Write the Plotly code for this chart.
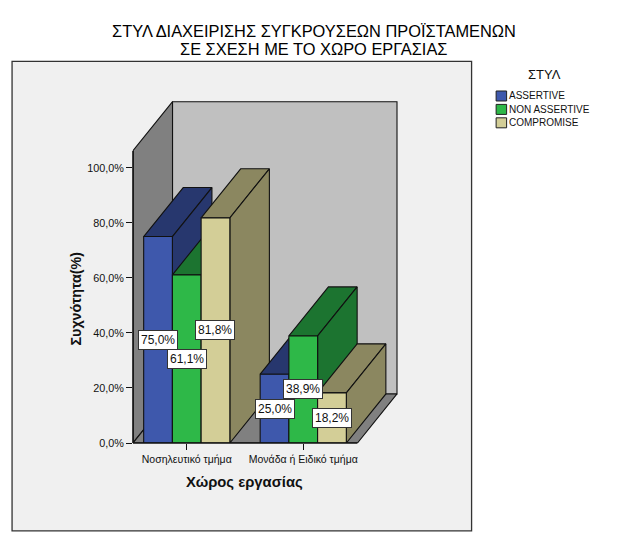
import plotly.graph_objects as go

categories = ["Νοσηλευτικό τμήμα", "Μονάδα ή Ειδικό τμήμα"]
series_names = ["ASSERTIVE", "NON ASSERTIVE", "COMPROMISE"]
assertive = [75.0, 25.0]
non_assertive = [61.1, 38.9]
compromise = [81.8, 18.2]
y_ticks = [0, 20, 40, 60, 80, 100]
y_tick_labels = ["0,0%", "20,0%", "40,0%", "60,0%", "80,0%", "100,0%"]
title_lines = ["ΣΤΥΛ ΔΙΑΧΕΙΡΙΣΗΣ ΣΥΓΚΡΟΥΣΕΩΝ ΠΡΟΪΣΤΑΜΕΝΩΝ", "ΣΕ ΣΧΕΣΗ ΜΕ ΤΟ ΧΩΡΟ ΕΡΓΑΣΙΑΣ"]

values = [assertive, non_assertive, compromise]
front = ["#3E58AC", "#2EB848", "#D3CE97"]
dark = ["#27376E", "#1C7430", "#8B8760"]

W, H = 631, 546
# plot area in pixels, covers the whole extruded box
L, R, T, B = 133.3, 399.0, 100.0, 442.7
PX_PER_CAT = 116.35
PX_PER_PCT = 2.75
X_MIN = (133.3 - 187.0) / PX_PER_CAT      # front-left floor corner
X_FLOOR = (357.5 - 187.0) / PX_PER_CAT    # front-right floor corner
X_LIM = (R - 187.0) / PX_PER_CAT
WALL_TOP = 106.18
Y_LIM = (B - T) / PX_PER_PCT
DX = 39.5 / PX_PER_CAT
DY = 49.0 / PX_PER_PCT
BAR_W = 0.2466
FONT = "Liberation Sans"
EDGE = dict(color="#111111", width=1.1)


def px(x):
    return (x - L) / (R - L)


def py(y):
    return (B - y) / (B - T)


def poly(xs, ys, color):
    return go.Scatter(
        x=xs + xs[:1], y=ys + ys[:1], mode="lines", fill="toself", fillcolor=color,
        line=EDGE, hoverinfo="skip", showlegend=False,
    )


fig = go.Figure()

# real bars, carrying the data
for name, vals, col in zip(series_names, values, front):
    fig.add_trace(go.Bar(x=[0, 1], y=vals, name=name, marker=dict(color=col, line=EDGE),
                         showlegend=False, hoverinfo="skip"))

# chart box: walls and floor
fig.add_trace(poly([X_MIN, X_MIN, X_MIN + DX, X_MIN + DX], [0, WALL_TOP, WALL_TOP + DY, DY], "#808080"))
fig.add_trace(poly([X_MIN + DX, X_MIN + DX, X_FLOOR + DX, X_FLOOR + DX], [DY, WALL_TOP + DY, WALL_TOP + DY, DY], "#C0C0C0"))
fig.add_trace(poly([X_MIN, X_MIN + DX, X_FLOOR + DX, X_FLOOR], [0, DY, DY, 0], "#808080"))

# extruded bars, painted left to right
annotations = []
for c in range(len(categories)):
    for s in range(len(series_names)):
        v = values[s][c]
        x0 = c + (s - 1.5) * BAR_W
        x1 = x0 + BAR_W
        fig.add_trace(poly([x0, x0 + DX, x1 + DX, x1], [v, v + DY, v + DY, v], dark[s]))
        fig.add_trace(poly([x1, x1 + DX, x1 + DX, x1], [0, DY, v + DY, v], dark[s]))
        fig.add_trace(poly([x0, x0, x1, x1], [0, v, v, 0], front[s]))
        annotations.append(dict(
            x=(x0 + x1) / 2, y=v / 2, xref="x", yref="y", showarrow=False,
            text=f"{v:.1f}%".replace(".", ","), font=dict(family=FONT, size=12, color="#111111"),
            bgcolor="white", bordercolor="#333333", borderwidth=1, borderpad=2,
        ))


def note(x, y, text, size, color="#111111", **kw):
    kw.setdefault("xanchor", "center")
    annotations.append(dict(x=px(x), y=py(y), xref="paper", yref="paper", showarrow=False, yanchor="middle",
                            text=text, font=dict(family=FONT, size=size, color=color), **kw))


# second title line, axis titles
note(314, 49.3, title_lines[1], 16.4, color="#000000")
note(245.0, 481.5, "<b>Χώρος εργασίας</b>", 14.8)
note(76.7, 298, "<b>Συχνότητα(%)</b>", 14.3, textangle=-90)

# legend
note(544.5, 75, "ΣΤΥΛ", 13)
shapes = [
    dict(type="rect", xref="paper", yref="paper", x0=px(12.5), x1=px(471.5), y0=py(61.5), y1=py(530.5),
         fillcolor="#F0F0F0", line=dict(color="#333333", width=1.3), layer="below"),
    # edges of the box that lie on the plot-area border
    dict(type="line", xref="paper", yref="y", x0=0, x1=0, y0=0, y1=WALL_TOP, line=dict(color="#111111", width=1.6), layer="above"),
    dict(type="line", xref="x", yref="paper", x0=X_MIN, x1=X_FLOOR, y0=0, y1=0, line=dict(color="#111111", width=1.6), layer="above"),
]
for i, (name, col) in enumerate(zip(series_names, front)):
    yc = 96 + i * 13.4
    shapes.append(dict(type="rect", xref="paper", yref="paper", x0=px(496), x1=px(506.5), y0=py(yc - 5), y1=py(yc + 5),
                       fillcolor=col, line=dict(color="#222222", width=1), layer="above"))
    note(507, yc, name, 10, xanchor="left")

fig.update_layout(
    width=W, height=H, margin=dict(l=L, r=W - R, t=T, b=H - B, pad=0, autoexpand=False),
    paper_bgcolor="white", plot_bgcolor="rgba(0,0,0,0)",
    barmode="group", bargap=1 - 3 * BAR_W, bargroupgap=0, showlegend=False,
    title=dict(text=title_lines[0], x=314 / W, xanchor="center", y=1 - 31.7 / H, yanchor="middle",
               font=dict(family=FONT, size=16.4, color="#000000")),
    xaxis=dict(range=[X_MIN, X_LIM], tickvals=[0, 1], ticktext=categories, ticks="outside", ticklen=6,
               tickcolor="#111111", tickfont=dict(family=FONT, size=10.5, color="#111111"),
               showgrid=False, zeroline=False, showline=False),
    yaxis=dict(range=[0, Y_LIM], tickvals=y_ticks, ticktext=y_tick_labels, ticks="outside", ticklen=6,
               tickcolor="#111111", tickfont=dict(family=FONT, size=10.8, color="#111111"),
               showgrid=False, zeroline=False, showline=False),
    annotations=annotations, shapes=shapes,
)

fig.write_html("out.html", config={"displayModeBar": False},
               post_script="document.body.style.margin='0';document.body.style.overflow='hidden';")
